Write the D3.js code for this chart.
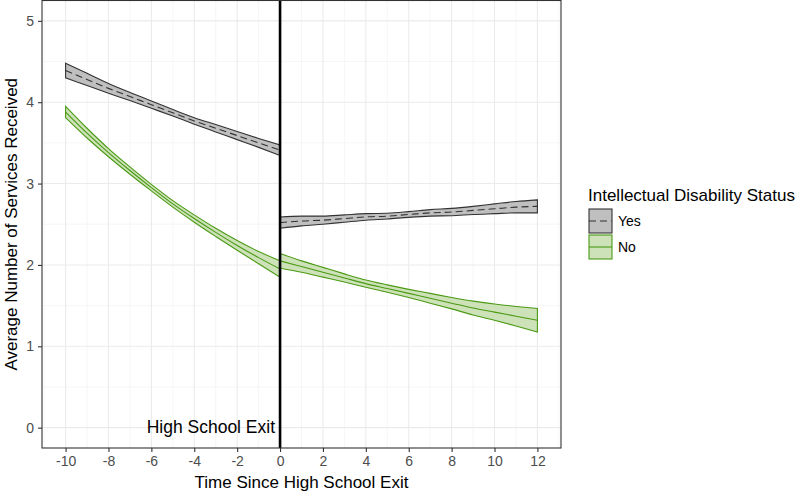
<!DOCTYPE html>
<html>
<head>
<meta charset="utf-8">
<script src="https://cdn.jsdelivr.net/npm/d3@7.9.0/dist/d3.min.js"></script>
<style>
  html, body { margin: 0; padding: 0; background: #fff; }
  svg { display: block; font-family: "Liberation Sans", Arial, sans-serif; }
</style>
</head>
<body>
<svg id="chart" width="800" height="493"></svg>
<script>
// years before and after leaving high school
const yearsPre = [-10, -9, -8, -7, -6, -5, -4, -3, -2, -1, 0];
const yearsPost = [0, 1, 2, 3, 4, 5, 6, 7, 8, 9, 10, 11, 12];

// Intellectual disability: Yes
const yesPreMean = [4.39, 4.28, 4.17, 4.07, 3.97, 3.87, 3.77, 3.68, 3.59, 3.50, 3.41];
const yesPreLo   = [4.30, 4.205, 4.11, 4.02, 3.925, 3.83, 3.73, 3.635, 3.54, 3.445, 3.345];
const yesPreHi   = [4.48, 4.355, 4.23, 4.12, 4.015, 3.91, 3.81, 3.725, 3.64, 3.555, 3.475];
const yesPostMean = [2.52, 2.54, 2.55, 2.57, 2.59, 2.60, 2.62, 2.64, 2.65, 2.67, 2.69, 2.71, 2.72];
const yesPostLo   = [2.45, 2.48, 2.50, 2.525, 2.55, 2.565, 2.585, 2.60, 2.605, 2.62, 2.63, 2.64, 2.64];
const yesPostHi   = [2.59, 2.60, 2.60, 2.615, 2.63, 2.635, 2.655, 2.68, 2.695, 2.72, 2.75, 2.78, 2.80];

// Intellectual disability: No
const noPreMean = [3.88, 3.62, 3.38, 3.16, 2.95, 2.75, 2.57, 2.40, 2.24, 2.09, 1.95];
const noPreLo   = [3.81, 3.56, 3.33, 3.115, 2.91, 2.71, 2.525, 2.35, 2.18, 2.015, 1.85];
const noPreHi   = [3.95, 3.68, 3.43, 3.205, 2.99, 2.79, 2.615, 2.45, 2.30, 2.165, 2.05];
const noPostMean = [2.05, 1.98, 1.91, 1.84, 1.77, 1.71, 1.65, 1.59, 1.53, 1.47, 1.42, 1.37, 1.32];
const noPostLo   = [1.96, 1.91, 1.85, 1.79, 1.725, 1.665, 1.60, 1.53, 1.46, 1.385, 1.32, 1.25, 1.175];
const noPostHi   = [2.14, 2.05, 1.97, 1.89, 1.815, 1.755, 1.70, 1.65, 1.60, 1.555, 1.52, 1.49, 1.465];

const xTicks = [-10, -8, -6, -4, -2, 0, 2, 4, 6, 8, 10, 12];
const yTicks = [0, 1, 2, 3, 4, 5];
const groups = ['Yes', 'No'];

const styles = {
    Yes: { fill: '#bfbfbf', stroke: '#333333', dash: '7,4' },
    No:  { fill: '#cde2b8', stroke: '#4a9a14', dash: null }
};

const svg = d3.select('#chart');
const pLeft = 42, pRight = 561, pTop = 0.5, pBottom = 448;

let x = d3.scaleLinear().domain([-11.1, 13.1]).range([pLeft, pRight]);
let y = d3.scaleLinear().domain([-0.25, 5.25]).range([pBottom, pTop]);

// grid
let grid = svg.append('g');
d3.range(-11, 14, 2).forEach(v => {
    grid.append('line').attr('x1', x(v)).attr('x2', x(v)).attr('y1', pTop).attr('y2', pBottom)
        .attr('stroke', '#f0f0f0').attr('stroke-width', 0.6);
});
d3.range(0.5, 5, 1).forEach(v => {
    grid.append('line').attr('x1', pLeft).attr('x2', pRight).attr('y1', y(v)).attr('y2', y(v))
        .attr('stroke', '#f0f0f0').attr('stroke-width', 0.6);
});
xTicks.forEach(v => {
    grid.append('line').attr('x1', x(v)).attr('x2', x(v)).attr('y1', pTop).attr('y2', pBottom)
        .attr('stroke', '#ebebeb').attr('stroke-width', 1.1);
});
yTicks.forEach(v => {
    grid.append('line').attr('x1', pLeft).attr('x2', pRight).attr('y1', y(v)).attr('y2', y(v))
        .attr('stroke', '#ebebeb').attr('stroke-width', 1.1);
});

// bands and mean lines
let area = d3.area().curve(d3.curveMonotoneX).x(d => x(d.t)).y0(d => y(d.lo)).y1(d => y(d.hi));
let line = d3.line().curve(d3.curveMonotoneX).x(d => x(d.t)).y(d => y(d.m));

function segment(years, mean, lo, hi) {
    return years.map((t, i) => ({ t: t, m: mean[i], lo: lo[i], hi: hi[i] }));
}

const segments = [
    { g: 'Yes', data: segment(yearsPre, yesPreMean, yesPreLo, yesPreHi) },
    { g: 'Yes', data: segment(yearsPost, yesPostMean, yesPostLo, yesPostHi) },
    { g: 'No', data: segment(yearsPre, noPreMean, noPreLo, noPreHi) },
    { g: 'No', data: segment(yearsPost, noPostMean, noPostLo, noPostHi) }
];

segments.forEach(s => {
    let st = styles[s.g];
    svg.append('path')
        .attr('d', area(s.data) + 'Z')
        .attr('fill', st.fill)
        .attr('stroke', st.stroke)
        .attr('stroke-width', 1.1);
    svg.append('path')
        .attr('d', line(s.data))
        .attr('fill', 'none')
        .attr('stroke', st.stroke)
        .attr('stroke-width', 1.1)
        .attr('stroke-dasharray', st.dash);
});

// high school exit marker
svg.append('line')
    .attr('x1', x(0)).attr('x2', x(0)).attr('y1', pTop).attr('y2', pBottom)
    .attr('stroke', '#000').attr('stroke-width', 2.6);
svg.append('text')
    .attr('x', x(0) - 5).attr('y', y(0))
    .attr('dy', '0.3em')
    .attr('text-anchor', 'end')
    .attr('font-size', 17.5)
    .attr('fill', '#000')
    .text('High School Exit');

// panel border
svg.append('rect')
    .attr('x', pLeft).attr('y', pTop).attr('width', pRight - pLeft).attr('height', pBottom - pTop)
    .attr('fill', 'none').attr('stroke', '#333333').attr('stroke-width', 1.1);

// axes
let xAxis = svg.append('g')
    .attr('transform', `translate(0,${pBottom})`)
    .call(d3.axisBottom(x).tickValues(xTicks).tickFormat(d => String(d))
        .tickSize(4).tickPadding(4).tickSizeOuter(0));
let yAxis = svg.append('g')
    .attr('transform', `translate(${pLeft},0)`)
    .call(d3.axisLeft(y).tickValues(yTicks).tickFormat(d => String(d))
        .tickSize(4).tickPadding(4).tickSizeOuter(0));

[xAxis, yAxis].forEach(a => {
    a.select('.domain').remove();
    a.selectAll('.tick line').attr('stroke', '#333333').attr('stroke-width', 1.1);
    a.selectAll('.tick text').attr('fill', '#4d4d4d').attr('font-size', 14)
        .attr('font-family', '"Liberation Sans", Arial, sans-serif');
});

svg.append('text')
    .attr('x', (pLeft + pRight) / 2).attr('y', 488)
    .attr('text-anchor', 'middle')
    .attr('font-size', 17)
    .text('Time Since High School Exit');

svg.append('text')
    .attr('transform', `translate(17,${(pTop + pBottom) / 2}) rotate(-90)`)
    .attr('text-anchor', 'middle')
    .attr('font-size', 17)
    .text('Average Number of Services Received');

// legend
let legend = svg.append('g').attr('transform', 'translate(588,0)');
legend.append('text')
    .attr('x', 0).attr('y', 201)
    .attr('font-size', 17)
    .text('Intellectual Disability Status');

groups.forEach((g, i) => {
    let st = styles[g];
    let ky = 209 + i * 26;
    legend.append('rect')
        .attr('x', 1).attr('y', ky).attr('width', 23).attr('height', 24)
        .attr('fill', st.fill).attr('stroke', st.stroke).attr('stroke-width', 1.1);
    legend.append('line')
        .attr('x1', 1).attr('x2', 24).attr('y1', ky + 12).attr('y2', ky + 12)
        .attr('stroke', st.stroke).attr('stroke-width', 1.1)
        .attr('stroke-dasharray', st.dash);
    legend.append('text')
        .attr('x', 30).attr('y', ky + 12).attr('dy', '0.35em')
        .attr('font-size', 14)
        .text(g);
});
</script>
</body>
</html>
